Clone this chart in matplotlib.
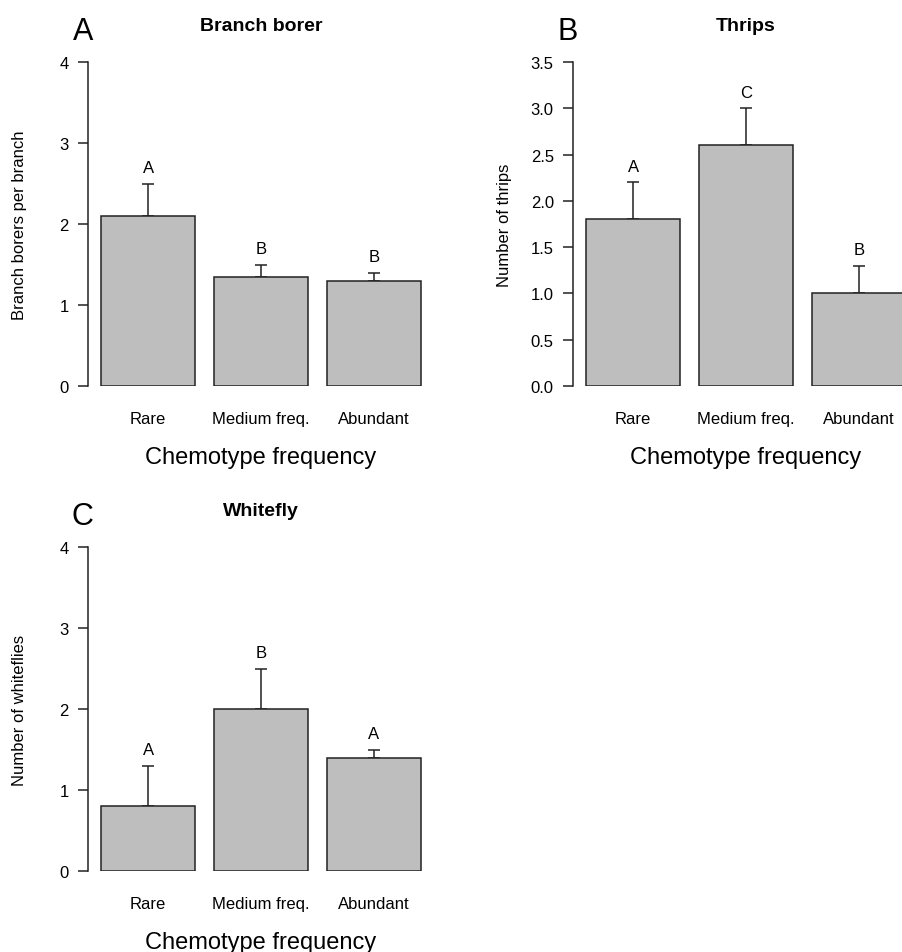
import numpy as np
from matplotlib import pyplot as plt

plt.rcParams['font.family'] = ['Liberation Sans', 'DejaVu Sans']

# Data.
categories = ['Rare', 'Medium freq.', 'Abundant']

borer_means = [2.1, 1.35, 1.3]
borer_se = [0.4, 0.15, 0.1]
borer_letters = ['A', 'B', 'B']

thrips_means = [1.8, 2.6, 1.0]
thrips_se = [0.4, 0.4, 0.3]
thrips_letters = ['A', 'C', 'B']

whitefly_means = [0.8, 2.0, 1.4]
whitefly_se = [0.5, 0.5, 0.1]
whitefly_letters = ['A', 'B', 'A']

W, H = 903, 953
fig = plt.figure(figsize=(W / 100, H / 100), dpi=100)


def px_axes(left, top, width, height):
    # place an axes using pixel coordinates measured from the top-left corner
    return fig.add_axes([left / W, (H - top - height) / H, width / W, height / H])


def bar_panel(ax, means, se, letters, ymax, ystep, ylabel, title, panel, fmt):
    x = 0.2 + np.arange(len(means)) * 1.2 + 0.5   # R barplot positions
    ax.bar(x, means, width=1.0, color='#bebebe', edgecolor='#222222',
           linewidth=1.1, zorder=2)
    ax.errorbar(x, means, yerr=[np.zeros(len(se)), se], fmt='none',
                ecolor='#222222', elinewidth=1.1, capsize=4.3, capthick=1.1,
                zorder=1)
    tops = np.array(means) + np.array(se)
    for xi, top, lab in zip(x, tops, letters):
        ax.annotate(lab, xy=(xi, top), xytext=(0, 11.5), textcoords='offset points',
                    ha='center', va='center', fontsize=12)

    ax.set_xlim(0.064, 3.736)
    ax.set_ylim(0, ymax)
    ticks = np.arange(0, ymax + 1e-9, ystep)
    ax.set_yticks(ticks)
    ax.set_yticklabels([fmt.format(t) for t in ticks])
    ax.set_xticks(x)
    ax.set_xticklabels(categories)

    for side in ['top', 'right', 'bottom']:
        ax.spines[side].set_visible(False)
    ax.spines['left'].set_linewidth(1.1)
    ax.spines['left'].set_color('#222222')
    ax.spines['left'].set_bounds(0, ymax)

    ax.tick_params(axis='y', length=7, width=1.1, color='#222222',
                   labelsize=12, pad=7)
    ax.tick_params(axis='x', length=0, labelsize=12, pad=18)

    ax.set_ylabel(ylabel, fontsize=12, va='center')
    ax.yaxis.set_label_coords(-0.2, 0.5)
    ax.set_xlabel('Chemotype frequency', fontsize=17, va='center')
    ax.xaxis.set_label_coords(0.5, -0.219)

    ax.text(0.5, 1.114, title, transform=ax.transAxes, ha='center', va='center',
            fontsize=14, fontweight='bold')
    ax.text(-0.016, 1.097, panel, transform=ax.transAxes, ha='center',
            va='center', fontsize=22)


axA = px_axes(88.2, 63, 345.6, 324)
bar_panel(axA, borer_means, borer_se, borer_letters, 4, 1,
          'Branch borers per branch', 'Branch borer', 'A', '{:.0f}')

axB = px_axes(573.2, 63, 345.6, 324)
bar_panel(axB, thrips_means, thrips_se, thrips_letters, 3.5, 0.5,
          'Number of thrips', 'Thrips', 'B', '{:.1f}')

axC = px_axes(88.2, 548, 345.6, 324)
bar_panel(axC, whitefly_means, whitefly_se, whitefly_letters, 4, 1,
          'Number of whiteflies', 'Whitefly', 'C', '{:.0f}')

fig.savefig('out.png', dpi=100)
